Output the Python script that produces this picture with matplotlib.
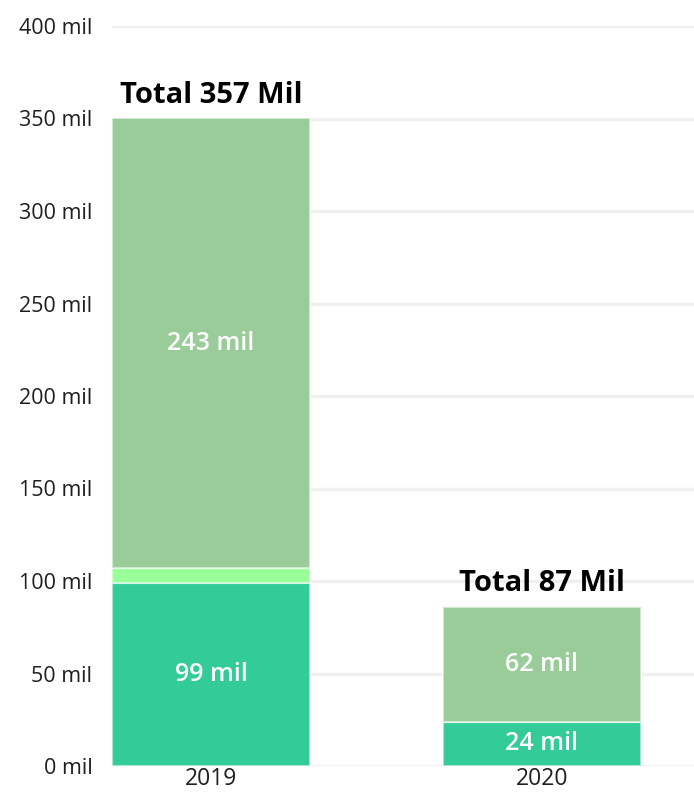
import numpy as np
import matplotlib.pyplot as plt

plt.rcParams['font.family'] = ['Open Sans', 'DejaVu Sans']

years = ['2019', '2020']
seg_bottom = [99, 24]
seg_middle = [8, 0]
seg_top = [243, 62]
bottom_labels = ['99 mil', '24 mil']
top_labels = ['243 mil', '62 mil']
total_labels = ['Total 357 Mil', 'Total 87 Mil']
yticks = [0, 50, 100, 150, 200, 250, 300, 350, 400]

C_BOTTOM = '#33CC99'
C_MIDDLE = '#99FF99'
C_TOP = '#99CC99'

fig = plt.figure(figsize=(6.94, 8.0), dpi=100)
ax = fig.add_axes([0.161, 0.0425, 0.839, 0.925])

x = np.arange(len(years))
w = 0.6
edge = dict(edgecolor=(1, 1, 1, 0.55), linewidth=1.5)
ax.bar(x, seg_bottom, w, color=C_BOTTOM, zorder=3, **edge)
mid_base = np.array(seg_bottom)
ax.bar(x, seg_middle, w, bottom=mid_base, color=C_MIDDLE, zorder=3, **edge)
top_base = mid_base + np.array(seg_middle)
ax.bar(x, seg_top, w, bottom=top_base, color=C_TOP, zorder=3, **edge)

for i in range(len(years)):
    ax.text(x[i], seg_bottom[i] / 2, bottom_labels[i], ha='center', va='center',
            color='white', fontsize=18, fontweight='semibold', zorder=4)
    ax.text(x[i], top_base[i] + seg_top[i] / 2, top_labels[i], ha='center', va='center',
            color='white', fontsize=18, fontweight='semibold', zorder=4)
    total = top_base[i] + seg_top[i]
    ax.annotate(total_labels[i], xy=(x[i], total), xytext=(0, 11.5),
                textcoords='offset points', ha='center', va='baseline',
                fontsize=21, fontweight='bold', color='black', zorder=4)

ax.set_xlim(-0.3, 1.46)
ax.set_ylim(0, 400)
ax.set_yticks(yticks)
ax.set_yticklabels([f'{v} mil' for v in yticks], fontsize=15.5, color='#1f1f1f')
ax.set_xticks(x)
ax.set_xticklabels(years, fontsize=16.5, color='#1f1f1f')
ax.tick_params(length=0)
ax.tick_params(axis='x', pad=1)
ax.tick_params(axis='y', pad=14)
ax.grid(axis='y', color='#F0F0F0', linewidth=2.5, zorder=0)
ax.set_axisbelow(True)
for s in ax.spines.values():
    s.set_visible(False)

plt.savefig('out.png', dpi=100)
